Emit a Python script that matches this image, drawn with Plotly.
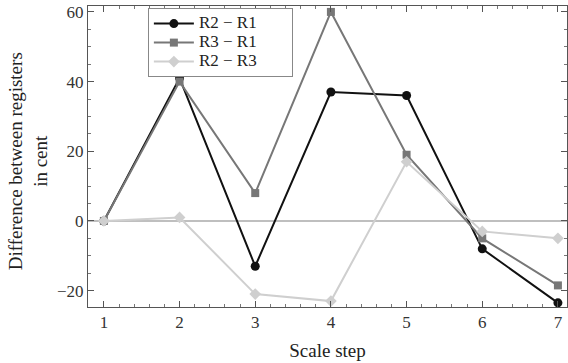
import plotly.graph_objects as go

steps = [1, 2, 3, 4, 5, 6, 7]
r2_r1 = [0, 41, -13, 37, 36, -8, -23.5]
r3_r1 = [0, 40, 8, 60, 19, -5, -18.5]
r2_r3 = [0, 1, -21, -23, 17, -3, -5]

series = [
    ("R2 − R1", r2_r1, "#111111", "circle", 9),
    ("R3 − R1", r3_r1, "#777777", "square", 8),
    ("R2 − R3", r2_r3, "#cfcfcf", "diamond", 9),
]

PAD = "\u00a0" * 7

fig = go.Figure()
for name, vals, color, sym, size in series:
    fig.add_trace(go.Scatter(
        x=steps, y=vals, mode="lines+markers",
        name=f'<span style="font-size:17px">{name}{PAD}</span>',
        line=dict(color=color, width=2),
        marker=dict(color=color, symbol=sym, size=size),
    ))

fig.add_hline(y=0, line=dict(color="#aaaaaa", width=1.5), layer="below")

font = "Liberation Serif, Times New Roman, serif"
axis_common = dict(
    showgrid=False, zeroline=False, showline=True, linecolor="#555555",
    linewidth=1, mirror="ticks", ticks="inside", ticklen=6, tickcolor="#555555",
    tickfont=dict(family=font, size=17, color="#333333"),
)

# vertical axis title, two lines
fig.add_annotation(
    text="Difference between registers<br>in cent",
    xref="paper", yref="paper", x=-0.126, y=0.483,
    xanchor="center", yanchor="middle", textangle=-90,
    showarrow=False, font=dict(family=font, size=19, color="#222222"),
)

fig.update_layout(
    width=568, height=363,
    margin=dict(l=88, r=1, t=6, b=56),
    paper_bgcolor="white", plot_bgcolor="white",
    font=dict(family=font, color="#222222"),
    showlegend=True,
    legend=dict(
        x=0.125, y=0.993, xanchor="left", yanchor="top",
        bordercolor="#888888", borderwidth=1, bgcolor="white",
        font=dict(family=font, size=12, color="#222222"),
        itemwidth=40, tracegroupgap=0,
    ),
    xaxis=dict(
        range=[0.79, 7.12], tickvals=steps,
        minor=dict(dtick=0.2, ticks="inside", ticklen=3, tickcolor="#777777"),
        title=dict(text="Scale step", font=dict(family=font, size=19), standoff=12),
        **axis_common,
    ),
    yaxis=dict(
        range=[-24.7, 61.7], tickvals=[-20, 0, 20, 40, 60],
        minor=dict(dtick=5, ticks="inside", ticklen=3, tickcolor="#777777"),
        **axis_common,
    ),
)

fig.write_html("out.html")
